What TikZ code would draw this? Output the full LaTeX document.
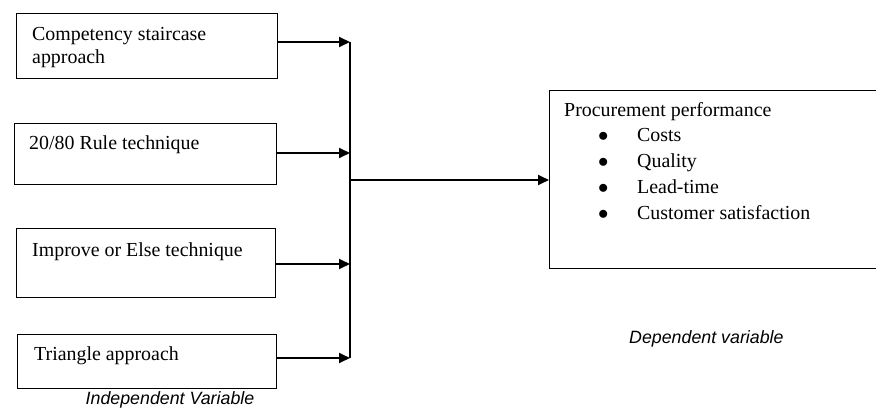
\documentclass[tikz,border=0pt]{standalone}
\usepackage{fontspec}
\setmainfont{Liberation Serif}
\setsansfont{Liberation Sans}
\usetikzlibrary{arrows.meta}
\begin{document}
\begin{tikzpicture}[x=1pt,y=-1pt,
  box/.style={draw=black, line width=1.3pt, rectangle, inner sep=0pt, anchor=north west},
  txt/.style={anchor=base west, inner sep=0pt, font=\fontsize{19.9}{23}\selectfont},
  lbl/.style={anchor=base west, inner sep=0pt, font=\sffamily\itshape\fontsize{17.8}{20}\selectfont},
  arr/.style={line width=1.8pt, -{Triangle[length=11pt,width=10pt]}},
  ln/.style={line width=1.8pt}]
\useasboundingbox (0,0) rectangle (876,410);
% independent boxes
\node[box, minimum width=261pt, minimum height=65pt] (b1) at (16,13) {};
\node[box, minimum width=262pt, minimum height=61pt] (b2) at (14,123) {};
\node[box, minimum width=259pt, minimum height=69pt] (b3) at (16,228) {};
\node[box, minimum width=259pt, minimum height=54pt] (b4) at (17,334) {};
\node[txt] (t1a) at (32,40) {Competency staircase};
\node[txt] (t1b) at (32,63) {approach};
\node[txt] (t2) at (29,149) {20/80 Rule technique};
\node[txt] (t3) at (32,256) {Improve or Else technique};
\node[txt] (t4) at (34,360) {Triangle approach};
% dependent box
\node[box, minimum width=340pt, minimum height=178pt] (d) at (549,90) {};
\node[txt] (dt) at (564,116) {Procurement performance};
\node[txt] (bl1) at (598,141) {$\bullet$};
\node[txt] (bl2) at (598,167) {$\bullet$};
\node[txt] (bl3) at (598,193) {$\bullet$};
\node[txt] (bl4) at (598,219) {$\bullet$};
\node[txt] (i1) at (637,141) {Costs};
\node[txt] (i2) at (637,167) {Quality};
\node[txt] (i3) at (637,193) {Lead-time};
\node[txt] (i4) at (637,219) {Customer satisfaction};
% labels
\node[lbl, anchor=base] (li) at (170,404) {Independent Variable};
\node[lbl] (ld) at (629,343) {Dependent variable};
% connectors
\coordinate (v1) at (350,42);
\coordinate (v2) at (350,153);
\coordinate (v3) at (350,264);
\coordinate (v4) at (350,358);
\coordinate (vm) at (350,180);
\draw[arr] (b1.east |- v1) -- (v1);
\draw[arr] (b2.east |- v2) -- (v2);
\draw[arr] (b3.east |- v3) -- (v3);
\draw[arr] (b4.east |- v4) -- (v4);
\draw[ln] (v1) -- (v4);
\draw[arr] (vm) -- (d.west |- vm);
\end{tikzpicture}
\end{document}
